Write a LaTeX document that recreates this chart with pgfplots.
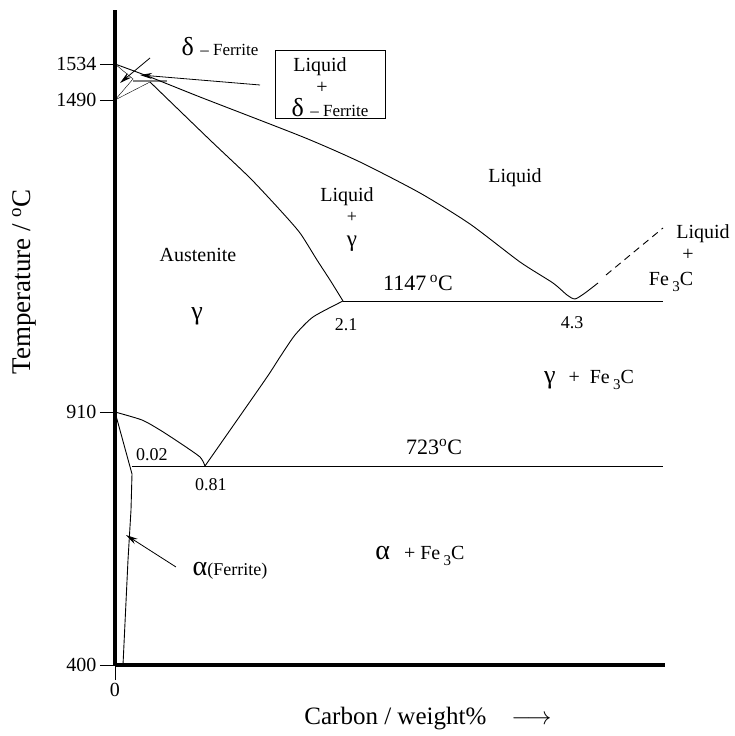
\documentclass[border=0pt]{standalone}
\usepackage{pgfplots}
\pgfplotsset{compat=1.18}
\usepackage{fontspec}
\setmainfont{Liberation Serif}
\usetikzlibrary{arrows.meta}
\newcommand{\fs}[1]{\fontsize{#1}{#1}\selectfont}
\newcommand{\sub}[1]{\,\raisebox{-0.3em}{\fs{15}#1}}
\begin{document}
\begin{tikzpicture}
\useasboundingbox (-115pt,-71pt) rectangle (620pt,665pt);
\begin{axis}[
  at={(0pt,0pt)}, anchor=south west,
  scale only axis, width=550pt, height=655pt,
  xmin=0, xmax=550, ymin=0, ymax=655,
  axis x line=bottom, axis y line=left,
  axis line style={-, line width=4pt},
  xtick={0}, xticklabels={0},
  ytick={0,253,565,601}, yticklabels={400,910,1490,1534},
  tick align=outside, major tick length=15pt,
  tick style={black, line width=0.8pt},
  ticklabel style={font=\fs{20}},
  clip=false,
  xlabel={Carbon / weight\%\quad$\longrightarrow$},
  xlabel style={font=\fs{25}, at={(rel axis cs:0.569,-0.081)}, anchor=center},
  ylabel={Temperature / \textsuperscript{o}C},
  ylabel style={font=\fs{27}, at={(rel axis cs:-0.1655,0.585)}, anchor=center},
  cycle list={{black, solid, line width=0.9pt, mark=none}},
  every node/.append style={inner sep=1pt},
]
% delta ferrite triangle
\addplot coordinates {(0,601) (18,586) (0,565)};
% 1490 to peritectic
\addplot coordinates {(0,565) (35,583)};
% peritectic horizontal (grey)
\addplot[gray, line width=1.6pt] coordinates {(18,584) (52,584)};
% liquidus
\addplot[black, line width=0.9pt, smooth, tension=0.4] coordinates {(0,601) (35,588) (85,568) (188,528) (245,503) (305,472) (355,441) (405,403) (438,382) (452,370) (460,366) (470,372) (483,382)};
\addplot[black, line width=0.9pt, dash pattern=on 7pt off 5pt] coordinates {(491,390) (548,437)};
% solidus of austenite
\addplot[black, line width=0.9pt, smooth, tension=0.4] coordinates {(35,583) (95,525) (135,487) (165,455) (185,432) (202,405) (215,385) (228,364)};
% eutectic line
\addplot coordinates {(228,364) (548,364)};
% Acm
\addplot[black, line width=0.9pt, smooth, tension=0.4] coordinates {(228,364) (198,348) (180,330) (165,308) (150,285) (90,199)};
% eutectoid line
\addplot coordinates {(17,199) (548,199)};
% A3
\addplot[black, line width=0.9pt, smooth, tension=0.4] coordinates {(0,253) (27,245) (45,235) (65,222) (85,208) (90,199)};
% alpha solvus
\addplot coordinates {(0,253) (17,191) (16,155) (13,105) (8,0)};

% arrows
\draw[line width=0.8pt, -{Stealth[length=12pt,width=6pt]}] (35,607) -- (5,582);
\draw[line width=0.8pt, -{Stealth[length=12pt,width=6pt]}] (145,580) -- (25,590);
\draw[line width=0.8pt, -{Stealth[length=12pt,width=6pt]}] (61,98) -- (11,130);
% box
\draw[line width=0.8pt] (160,547) rectangle (270,615);

% labels
\node at (105,618) {\fs{26}δ\ \fs{17}– Ferrite};
\node at (205,598) {\fs{20}Liquid};
\node at (207,577) {\fs{20}+};
\node at (215,557) {\fs{26}δ\ \fs{17}– Ferrite};
\node at (400,487) {\fs{20}Liquid};
\node at (232,468) {\fs{20}Liquid};
\node at (237,448) {\fs{18}+};
\node at (237,421) {\fs{23}γ};
\node at (83,410) {\fs{20}Austenite};
\node at (82,349) {\fs{26}γ};
\node at (303,382) {\fs{22}1147\,\textsuperscript{o}C};
\node at (231,340) {\fs{18}2.1};
\node at (457,342) {\fs{18}4.3};
\node at (588,431) {\fs{20}Liquid};
\node at (573,410) {\fs{20}+};
\node at (556,383) {\fs{20}Fe\sub{3}C};
\node at (474,285) {\fs{26}γ\ \ \fs{20}+\ \ Fe\sub{3}C};
\node at (37,210) {\fs{18}0.02};
\node at (319,218) {\fs{22}723\textsuperscript{o}C};
\node at (96,180) {\fs{18}0.81};
\node at (305,109) {\fs{28}α\ \ \fs{20}+ Fe\sub{3}C};
\node at (115,94) {\fs{28}α\fs{18}(Ferrite)};
\end{axis}
\end{tikzpicture}
\end{document}
